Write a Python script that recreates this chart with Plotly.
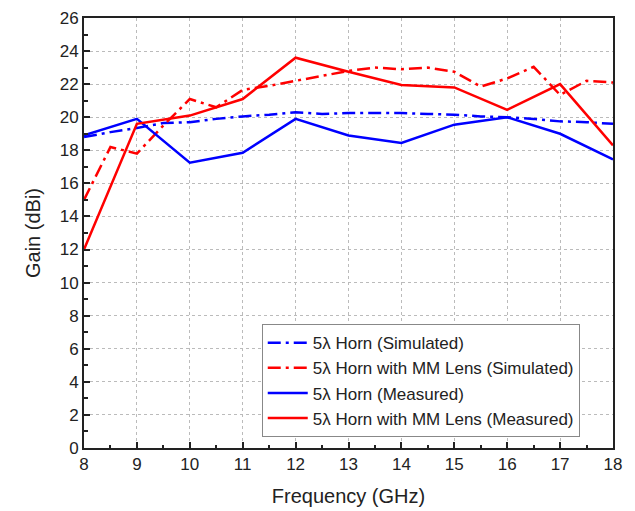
import plotly.graph_objects as go

freq_sim = [8, 8.5, 9, 9.5, 10, 10.5, 11, 11.5, 12, 12.5, 13, 13.5, 14, 14.5, 15, 15.5, 16, 16.5, 17, 17.5, 18]
horn_sim = [18.8, 19.1, 19.35, 19.65, 19.7, 19.9, 20.05, 20.15, 20.3, 20.2, 20.25, 20.25, 20.25, 20.2, 20.15, 20.05, 20.0, 19.9, 19.75, 19.7, 19.6]
lens_sim = [15.0, 18.2, 17.8, 19.5, 21.1, 20.6, 21.65, 21.9, 22.2, 22.5, 22.8, 23.0, 22.9, 23.0, 22.75, 21.85, 22.35, 23.05, 21.35, 22.2, 22.1]

freq_meas = [8, 9, 10, 11, 12, 13, 14, 15, 16, 17, 18]
horn_meas = [18.9, 19.9, 17.25, 17.85, 19.9, 18.9, 18.45, 19.55, 20.0, 19.0, 17.45]
lens_meas = [12.0, 19.6, 20.1, 21.1, 23.6, 22.75, 21.95, 21.8, 20.45, 22.0, 18.3]

names = ["5λ Horn (Simulated)", "5λ Horn with MM Lens (Simulated)",
         "5λ Horn (Measured)", "5λ Horn with MM Lens (Measured)"]

BLUE = "#0000ff"
RED = "#ff0000"
DASHDOT = "13px,5px,3px,5px"
FONT = "Liberation Sans, Arial"

fig = go.Figure()
fig.add_trace(go.Scatter(x=freq_sim, y=horn_sim, mode="lines", name=names[0],
                         line=dict(color=BLUE, width=2.5, dash=DASHDOT)))
fig.add_trace(go.Scatter(x=freq_sim, y=lens_sim, mode="lines", name=names[1],
                         line=dict(color=RED, width=2.5, dash=DASHDOT)))
fig.add_trace(go.Scatter(x=freq_meas, y=horn_meas, mode="lines", name=names[2],
                         line=dict(color=BLUE, width=2.5)))
fig.add_trace(go.Scatter(x=freq_meas, y=lens_meas, mode="lines", name=names[3],
                         line=dict(color=RED, width=2.5)))

axis_common = dict(
    showline=True, linecolor="#222", linewidth=2, mirror=True,
    ticks="inside", ticklen=6, tickwidth=2, tickcolor="#222",
    showgrid=True, gridcolor="#bbbbbb", griddash="dot", gridwidth=1,
    zeroline=False, automargin=False,
    tickfont=dict(family=FONT, size=17, color="#222"),
)

fig.update_xaxes(
    range=[8, 18], dtick=1, tick0=8,
    minor=dict(dtick=0.5, ticks="inside", ticklen=3.5, tickwidth=2, tickcolor="#222", showgrid=False),
    title=dict(text="Frequency (GHz)", font=dict(family=FONT, size=20, color="#222"), standoff=16),
    **axis_common,
)
fig.update_yaxes(
    range=[0, 26], dtick=2, tick0=0,
    minor=dict(dtick=1, ticks="inside", ticklen=3.5, tickwidth=2, tickcolor="#222", showgrid=False),
    title=dict(text="Gain (dBi)", font=dict(family=FONT, size=20, color="#222"), standoff=14),
    **axis_common,
)

fig.update_layout(
    width=635, height=511,
    margin=dict(l=84, r=22, t=18, b=63),
    plot_bgcolor="white", paper_bgcolor="white",
    showlegend=True,
    legend=dict(
        x=0.336, y=0.288, xanchor="left", yanchor="top",
        bgcolor="white", bordercolor="#888", borderwidth=1,
        font=dict(family=FONT, size=17, color="#222"),
        tracegroupgap=0, itemwidth=40,
    ),
)

fig.write_html("out.html")
